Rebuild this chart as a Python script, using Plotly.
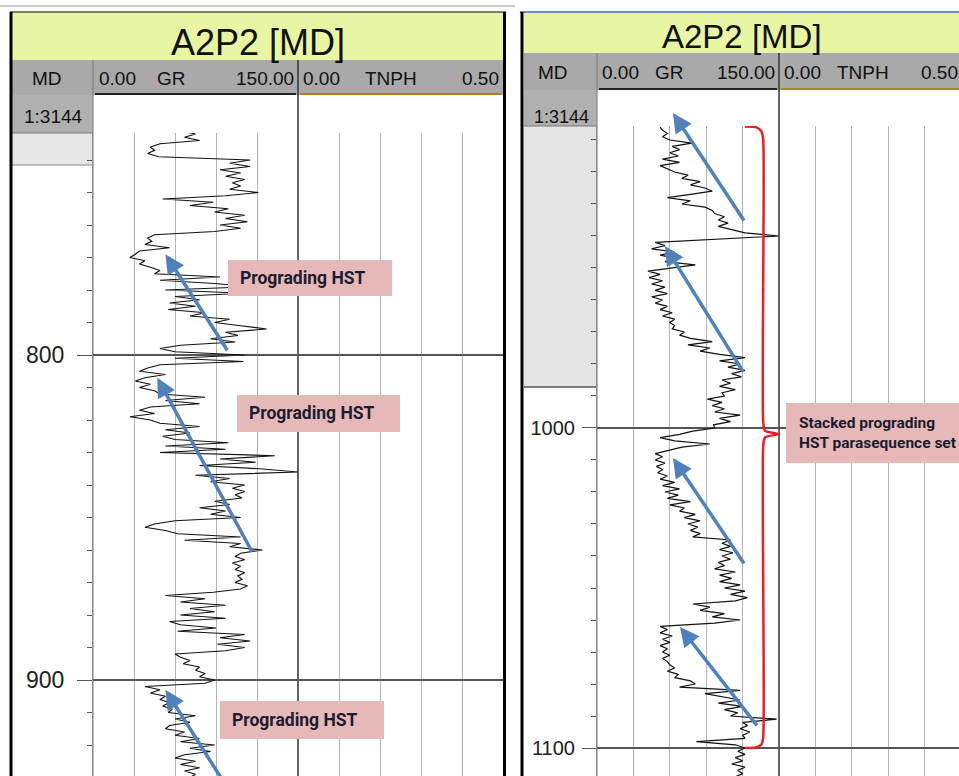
import plotly.graph_objects as go

W, H = 959, 776

# ---------------- GR log samples (API units), 1 m sampling ----------------
md_upper = list(range(731, 931))
gr_upper = [
    64, 75, 67, 78, 49, 42, 45, 40, 48, 115,
    100, 115, 93, 108, 97, 111, 102, 108, 100, 121,
    97, 51, 88, 71, 99, 89, 111, 97, 113, 93,
    108, 89, 45, 40, 43, 38, 56, 34, 31, 27,
    38, 34, 42, 49, 45, 93, 49, 89, 115, 53,
    111, 60, 78, 56, 75, 55, 82, 71, 100, 89,
    108, 127, 97, 106, 86, 104, 64, 49, 60, 111,
    60, 110, 49, 40, 34, 53, 38, 31, 42, 34,
    45, 49, 82, 53, 78, 42, 34, 45, 27, 42,
    49, 78, 53, 71, 51, 60, 99, 53, 97, 49,
    133, 93, 119, 78, 122, 150, 75, 100, 86, 111,
    102, 111, 104, 109, 89, 100, 78, 97, 86, 108,
    60, 45, 38, 53, 62, 108, 67, 108, 100, 124,
    108, 104, 111, 102, 108, 104, 111, 106, 109, 104,
    113, 108, 88, 53, 82, 64, 97, 71, 89, 64,
    97, 56, 64, 90, 62, 111, 93, 115, 91, 111,
    97, 60, 64, 71, 66, 78, 75, 82, 78, 89,
    82, 38, 49, 42, 53, 49, 56, 51, 58, 55,
    75, 60, 71, 56, 53, 67, 60, 78, 64, 89,
    71, 86, 67, 60, 75, 64, 78, 67, 75, 71,
]

md_lower = list(range(906, 1110))
gr_lower = [
    52, 54, 58, 54, 60, 78, 62, 68, 60, 67,
    54, 68, 52, 58, 64, 75, 70, 85, 77, 89,
    95, 77, 58, 77, 70, 89, 95, 97, 105, 100,
    108, 100, 110, 122, 150, 93, 48, 56, 45, 64,
    52, 66, 56, 81, 60, 42, 52, 43, 54, 45,
    56, 48, 58, 45, 54, 48, 58, 52, 62, 54,
    64, 60, 64, 62, 72, 68, 77, 95, 75, 93,
    85, 101, 122, 101, 118, 108, 122, 111, 119, 103,
    110, 101, 114, 103, 105, 91, 103, 95, 105, 97,
    118, 101, 110, 96, 97, 79, 68, 52, 64, 93,
    70, 58, 48, 54, 48, 56, 49, 54, 50, 58,
    52, 64, 54, 68, 56, 67, 58, 77, 60, 72,
    68, 81, 72, 85, 75, 83, 77, 85, 79, 110,
    103, 110, 101, 112, 103, 110, 100, 105, 97, 114,
    101, 111, 101, 118, 105, 122, 110, 124, 114, 79,
    93, 85, 105, 95, 118, 97, 52, 58, 52, 62,
    54, 60, 52, 58, 54, 60, 54, 58, 60, 64,
    58, 67, 64, 77, 81, 68, 118, 89, 103, 118,
    100, 120, 105, 116, 110, 148, 120, 124, 118, 126,
    120, 122, 82, 114, 122, 116, 122, 114, 120, 111,
    122, 116, 120, 114,
]

# ---------------- trend arrows (GR, MD): tail -> head ----------------
upper_tail_gr = [99, 117, 99.5]
upper_tail_md = [799, 861, 934]
upper_head_gr = [53, 47, 53]
upper_head_md = [769, 807, 903]

lower_tail_gr = [122, 121, 122, 132.7]
lower_tail_md = [935.6, 982.8, 1042.8, 1093.4]
lower_head_gr = [62.6, 56, 62.6, 68.4]
lower_head_md = [901.6, 943.1, 1009.4, 1062.2]

# curly brace spanning the parasequence set (GR, MD)
brace_gr = [122, 131, 135.5, 137, 137, 138.5, 149.5, 138.5, 137, 137, 135.5, 131, 122]
brace_md = [905.8, 906.0, 907.3, 910, 998.3, 1000.9, 1001.9, 1002.9, 1005.5, 1096.5, 1098.9, 1099.8, 1100.0]

upper_labels = ["Prograding HST", "Prograding HST", "Prograding HST"]
lower_label = "Stacked prograding<br>HST parasequence set"

# depth window of each panel
upper_range = [929.54, 731.69]
lower_range = [1108.75, 905.63]

SANS = "Liberation Sans, Arial, sans-serif"
LABEL_FONT = "Roboto, Liberation Sans, sans-serif"

ARROW_BLUE = "#4f81bd"
BOX_PINK = "#e6b9b8"


def fx(px):
    return px / W


def fy(py):
    return 1 - py / H


def rect(x0, y0, x1, y1, fill, layer="below"):
    return dict(type="rect", xref="paper", yref="paper",
                x0=fx(x0), x1=fx(x1), y0=fy(y1), y1=fy(y0),
                fillcolor=fill, line=dict(width=0), layer=layer)


def seg(x0, y0, x1, y1, color, width=1, layer="below"):
    return dict(type="line", xref="paper", yref="paper",
                x0=fx(x0), x1=fx(x1), y0=fy(y0), y1=fy(y1),
                line=dict(color=color, width=width), layer=layer)


def txt(x, y, s, size, xanchor="center", family=SANS, color="#111", weight="normal", align="center"):
    return dict(x=fx(x), y=fy(y), xref="paper", yref="paper", text=s,
                xanchor=xanchor, yanchor="middle", showarrow=False, align=align,
                font=dict(family=family, size=size, color=color, weight=weight))


fig = go.Figure()

fig.add_trace(go.Scatter(x=gr_upper, y=md_upper, mode="lines",
                         line=dict(color="#111", width=1.2),
                         xaxis="x", yaxis="y", showlegend=False, hoverinfo="skip"))
fig.add_trace(go.Scatter(x=[], y=[], xaxis="x2", yaxis="y", showlegend=False))
fig.add_trace(go.Scatter(x=gr_lower, y=md_lower, mode="lines",
                         line=dict(color="#111", width=1.2),
                         xaxis="x3", yaxis="y2", showlegend=False, hoverinfo="skip"))
fig.add_trace(go.Scatter(x=[], y=[], xaxis="x4", yaxis="y2", showlegend=False))
fig.add_trace(go.Scatter(x=brace_gr, y=brace_md, mode="lines",
                         line=dict(color="#ee1c24", width=2.5, shape="spline", smoothing=0.6),
                         xaxis="x3", yaxis="y2", showlegend=False, hoverinfo="skip"))

track_x = dict(showgrid=True, gridcolor="#b4b4b4", gridwidth=1, zeroline=False,
               showticklabels=False, ticks="", showline=False, fixedrange=True)
depth_y = dict(showgrid=True, gridcolor="#555555", gridwidth=1.5, dtick=100, tick0=0,
               zeroline=False, ticks="outside", tickcolor="#555555", tickwidth=1.2,
               showline=True, linecolor="#8a8a8a", linewidth=1,
               minor=dict(dtick=10, ticks="outside", ticklen=5, tickcolor="#555555",
                          tickwidth=1.2, showgrid=False))

fig.update_layout(
    width=W, height=H, margin=dict(l=0, r=0, t=0, b=0),
    paper_bgcolor="white", plot_bgcolor="rgba(0,0,0,0)",
    showlegend=False, hovermode=False,
    xaxis=dict(track_x, domain=[fx(93), fx(298)], range=[0, 150], dtick=30, anchor="y"),
    xaxis2=dict(track_x, domain=[fx(298), fx(503)], range=[0, 0.5], dtick=0.1, anchor="y"),
    xaxis3=dict(track_x, domain=[fx(597), fx(779)], range=[0, 150], dtick=30, anchor="y2"),
    xaxis4=dict(track_x, domain=[fx(779), 1], range=[0, 0.5 * 180 / 182], dtick=0.1, anchor="y2"),
    yaxis=dict(depth_y, domain=[0, fy(133)], range=upper_range, anchor="x",
               ticklen=15, ticklabelstandoff=8,
               tickfont=dict(family=SANS, size=23, color="#222")),
    yaxis2=dict(depth_y, domain=[0, fy(126)], range=lower_range, anchor="x3",
                ticklen=14, ticklabelstandoff=3,
                tickfont=dict(family=SANS, size=20, color="#222")),
)

shapes = []
# ---- upper panel frame and header ----
shapes += [
    seg(0, 6, 515, 6, "#c8c8c8", 2),
    rect(12, 12, 503, 60, "#e8f5a3"),
    rect(12, 60, 503, 95, "#a9a9a9"),
    rect(12, 95, 93, 133, "#b0b0b0"),
    rect(12, 133, 93, 165, "#e6e6e6"),
    seg(12, 133, 93, 133, "#777", 1),
    seg(12, 165, 93, 165, "#8a8a8a", 1),
    seg(95, 94, 296, 94, "#222", 2),
    seg(300, 94, 501, 94, "#b5782a", 2),
    seg(93, 60, 93, 776, "#7a7a7a", 1),
    seg(298, 60, 298, 776, "#333", 1.5),
    seg(10, 12, 506, 12, "#555", 1.5),
    seg(11, 12, 11, 776, "#000", 3),
    seg(504.5, 12, 504.5, 776, "#000", 3),
]
# ---- lower panel frame and header ----
shapes += [
    rect(524, 13, 959, 53, "#e8f5a3"),
    rect(524, 53, 959, 90, "#a9a9a9"),
    rect(524, 90, 597, 126, "#b0b0b0"),
    rect(524, 126, 597, 387, "#e4e4e4"),
    seg(524, 126, 597, 126, "#777", 1),
    seg(524, 387, 597, 387, "#555", 1.5),
    seg(599, 89, 777, 89, "#222", 2),
    seg(781, 89, 959, 89, "#a8862a", 2),
    seg(597, 53, 597, 776, "#7a7a7a", 1),
    seg(779, 53, 779, 776, "#333", 1.5),
    seg(520, 12, 959, 12, "#6a8cc8", 2),
    seg(522, 12, 522, 776, "#000", 3),
]
# ---- interpretation boxes ----
shapes += [
    rect(228, 260, 392, 296, BOX_PINK, layer="above"),
    rect(237, 395, 400, 432, BOX_PINK, layer="above"),
    rect(220, 701, 384, 739, BOX_PINK, layer="above"),
    rect(786, 403, 959, 463, BOX_PINK, layer="above"),
]
fig.update_layout(shapes=shapes)

ann = []
# header texts, upper panel
ann += [
    txt(258, 42, "A2P2 [MD]", 36),
    txt(47, 79, "MD", 19),
    txt(97, 79, "0.00", 19, xanchor="left"),
    txt(171, 79, "GR", 19),
    txt(296, 79, "150.00", 19, xanchor="right"),
    txt(301, 79, "0.00", 19, xanchor="left"),
    txt(391, 79, "TNPH", 19),
    txt(501, 79, "0.50", 19, xanchor="right"),
    txt(53, 116, "1:3144", 19),
]
# header texts, lower panel
ann += [
    txt(742, 36, "A2P2 [MD]", 33),
    txt(553, 72, "MD", 19),
    txt(600, 72, "0.00", 19, xanchor="left"),
    txt(669, 72, "GR", 19),
    txt(777, 72, "150.00", 19, xanchor="right"),
    txt(782, 72, "0.00", 19, xanchor="left"),
    txt(863, 72, "TNPH", 19),
    txt(960, 72, "0.50", 19, xanchor="right"),
    txt(561, 117, "1:3144", 18),
]
# box labels
for (bx, by), s in zip([(238, 278), (247, 413), (230, 720)], upper_labels):
    ann.append(txt(bx, by, s, 17.5, xanchor="left", family=LABEL_FONT,
                   color="#1c1c30", weight="bold", align="left"))
ann.append(txt(797, 433, lower_label, 15.5, xanchor="left", family=LABEL_FONT,
               color="#1c1c30", weight="bold", align="left"))

# trend arrows
for tg, tm, hg, hm in zip(upper_tail_gr, upper_tail_md, upper_head_gr, upper_head_md):
    ann.append(dict(x=hg, y=hm, ax=tg, ay=tm, xref="x", yref="y", axref="x", ayref="y",
                    text="", showarrow=True, arrowhead=2, arrowsize=1.1,
                    arrowwidth=3.5, arrowcolor=ARROW_BLUE))
for tg, tm, hg, hm in zip(lower_tail_gr, lower_tail_md, lower_head_gr, lower_head_md):
    ann.append(dict(x=hg, y=hm, ax=tg, ay=tm, xref="x3", yref="y2", axref="x3", ayref="y2",
                    text="", showarrow=True, arrowhead=2, arrowsize=1.1,
                    arrowwidth=3.5, arrowcolor=ARROW_BLUE))

fig.update_layout(annotations=ann)

fig.write_html("out.html")
